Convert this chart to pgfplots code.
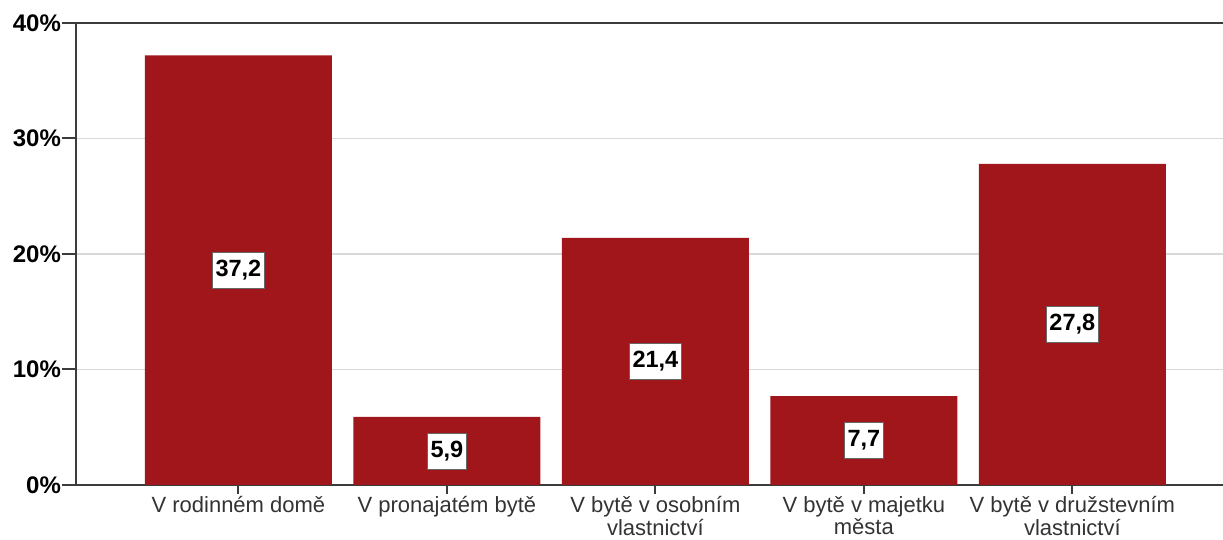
\documentclass[border=0pt]{standalone}
\usepackage{fontspec}
\setmainfont{Liberation Sans}
\usepackage{pgfplots}
\pgfplotsset{compat=1.18}
\begin{document}
\begin{tikzpicture}
\definecolor{barred}{HTML}{A1161A}
\definecolor{axisgray}{HTML}{3C3C3C}
\definecolor{gridgray}{HTML}{D9D9D9}
\begin{axis}[
  at={(0,0)}, anchor=south west,
  scale only axis,
  width=580pt, height=231pt,
  xmin=-0.779, xmax=4.785,
  ymin=0, ymax=40,
  ybar, bar width=93.5pt,
  xtick={0,1,2,3,4},
  xticklabels={V rodinném domě,V pronajatém bytě,V bytě v osobním\\vlastnictví,V bytě v majetku\\města,V bytě v družstevním\\vlastnictví},
  xticklabel style={align=center,font=\fontsize{11}{9.5}\selectfont,text=black!80,yshift=2.5pt,inner ysep=1pt},
  ytick={0,10,20,30,40},
  yticklabels={0\%,10\%,20\%,30\%,40\%},
  yticklabel style={font=\fontsize{12}{14}\selectfont\bfseries,xshift=3pt},
  tick pos=left,
  tick align=outside,
  major tick length=7pt,
  xtick style={/pgfplots/major tick length=4.5pt},
  tick style={axisgray,line width=1pt},
  axis line style={axisgray,line width=1pt},
  ymajorgrids=true,
  grid style={gridgray,line width=0.75pt},
  /pgf/number format/assume math mode=true,
  /pgf/number format/.cd,use comma,fixed,fixed zerofill,precision=1,
  /pgfplots/.cd,
]
\addplot[fill=barred,draw=none,
  visualization depends on={y \as \rawy},
  nodes near coords,
  every node near coord/.append style={
    shift={(axis direction cs:0,-\rawy/2)},anchor=center,
    fill=white,draw=black!60,line width=0.4pt,
    font=\fontsize{11.75}{13}\selectfont\bfseries,text=black,
    inner xsep=1.5pt,minimum height=18pt}]
  coordinates {(0,37.2) (1,5.9) (2,21.4) (3,7.7) (4,27.8)};
\end{axis}
\pgfresetboundingbox
\useasboundingbox (-38pt,-27.5pt) rectangle (573.5pt,242.5pt);
\end{tikzpicture}
\end{document}
